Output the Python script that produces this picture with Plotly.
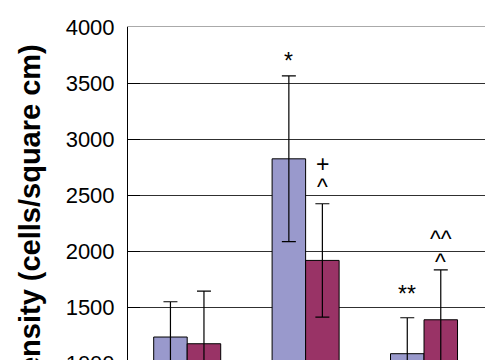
import plotly.graph_objects as go

# ---- data ----
categories = ["Group A", "Group B", "Group C"]
series_names = ["Series 1", "Series 2"]
blue_values = [1232, 2823, 1083]
blue_errors = [315, 740, 321]
red_values = [1172, 1916, 1386]
red_errors = [470, 506, 446]
blue_labels = ["", "*", "**"]
red_labels = ["", "+\n^", "^^\n^"]
y_ticks = [1000, 1500, 2000, 2500, 3000, 3500, 4000]
y_title = "Cell density (cells/square cm)"

# ---- styles ----
BLUE = "#9999CC"
PLUM = "#993366"
FONT = "Liberation Sans, Arial, sans-serif"
bargap = 0.434
bw = (1 - bargap) / 2
# pixel offset (above error-bar top) of the lowest label line, per label
blue_shift = [0, 15, 24]
red_shift = [0, 17, 8]
line_step = 23

W, H = 485, 520
mt, mb, ml, mr = 27, 45, 128, 0

fig = go.Figure()
xs = list(range(len(categories)))
for name, vals, errs, col in [
    (series_names[0], blue_values, blue_errors, BLUE),
    (series_names[1], red_values, red_errors, PLUM),
]:
    fig.add_trace(go.Bar(
        x=xs, y=vals, name=name,
        marker=dict(color=col, line=dict(color="black", width=1)),
        error_y=dict(type="data", array=errs, visible=True,
                     color="black", thickness=1.2, width=7),
    ))

annotations = []
for i in xs:
    for labels, vals, errs, shifts, off in [
        (blue_labels, blue_values, blue_errors, blue_shift, -bw / 2),
        (red_labels, red_values, red_errors, red_shift, bw / 2),
    ]:
        if not labels[i]:
            continue
        lines = labels[i].split("\n")[::-1]
        for k, t in enumerate(lines):
            annotations.append(dict(
                x=i + off, y=vals[i] + errs[i], xref="x", yref="y",
                text=t, showarrow=False, yanchor="middle", xanchor="center",
                yshift=shifts[i] + k * line_step,
                font=dict(family=FONT, size=23, color="black"),
            ))

plot_h = H - mt - mb
annotations.append(dict(
    x=(30 - ml) / (W - ml - mr), y=1 - (42 - mt) / plot_h,
    xref="paper", yref="paper", text="<b>" + y_title + "</b>",
    textangle=-90, showarrow=False, xanchor="center", yanchor="top",
    font=dict(family=FONT, size=29, color="black"),
))

fig.update_layout(
    width=W, height=H,
    margin=dict(l=ml, r=mr, t=mt, b=mb, pad=0),
    paper_bgcolor="white", plot_bgcolor="white",
    barmode="group", bargap=bargap, bargroupgap=0,
    showlegend=False,
    annotations=annotations,
    xaxis=dict(range=[-0.5, 2.515], tickvals=xs, ticktext=categories,
               showticklabels=False,
               showgrid=False, showline=True, mirror=True,
               linecolor="#aaaaaa", linewidth=1, ticks="",
               tickfont=dict(family=FONT, size=20, color="black")),
    yaxis=dict(range=[0, 4000], tickvals=y_ticks,
               showgrid=True, gridcolor="#303030", gridwidth=1,
               showline=True, linecolor="black", linewidth=1,
               ticks="inside", ticklen=12, tickcolor="black",
               zeroline=False,
               tickfont=dict(family=FONT, size=22, color="black"),
               ticklabelstandoff=8),
)

fig.write_html("out.html", config={"displayModeBar": False},
               post_script="document.body.style.margin='0';document.body.style.overflow='hidden';")
